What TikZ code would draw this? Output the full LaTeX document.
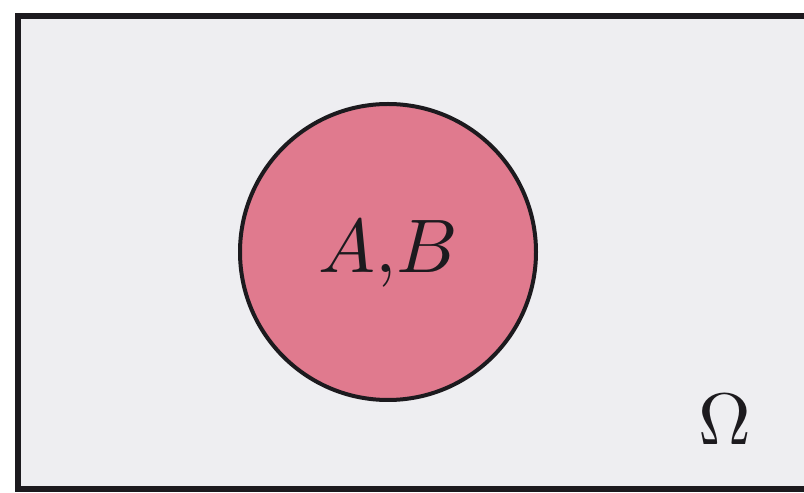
\documentclass[tikz,border=0pt]{standalone}
\usepackage{fontspec}
\definecolor{bgpaper}{RGB}{238,238,241}
\definecolor{pinkfill}{RGB}{224,122,142}
\definecolor{inkline}{RGB}{28,26,30}
\begin{document}
\begin{tikzpicture}[x=1pt,y=1pt,
  framebox/.style={draw=inkline,line width=6pt,fill=bgpaper},
  setdisc/.style={circle,draw=inkline,line width=4pt,fill=pinkfill,minimum size=296pt,inner sep=0pt},
  biglabel/.style={inner sep=0pt,text=inkline}]
\useasboundingbox (0,0) rectangle (804,493);
\clip (0,0) rectangle (804,493);
\fill[white] (0,0) rectangle (804,493);
\draw[framebox] (18,4) rectangle (830,476.5);
\node[setdisc] (disc) at (388,241) {};
\node[biglabel,scale=7.6] (ab) at (388,239) {$A{,}B$};
\node[biglabel,scale=7.3] (omega) at (725,73) {$\Omega$};
\end{tikzpicture}
\end{document}
